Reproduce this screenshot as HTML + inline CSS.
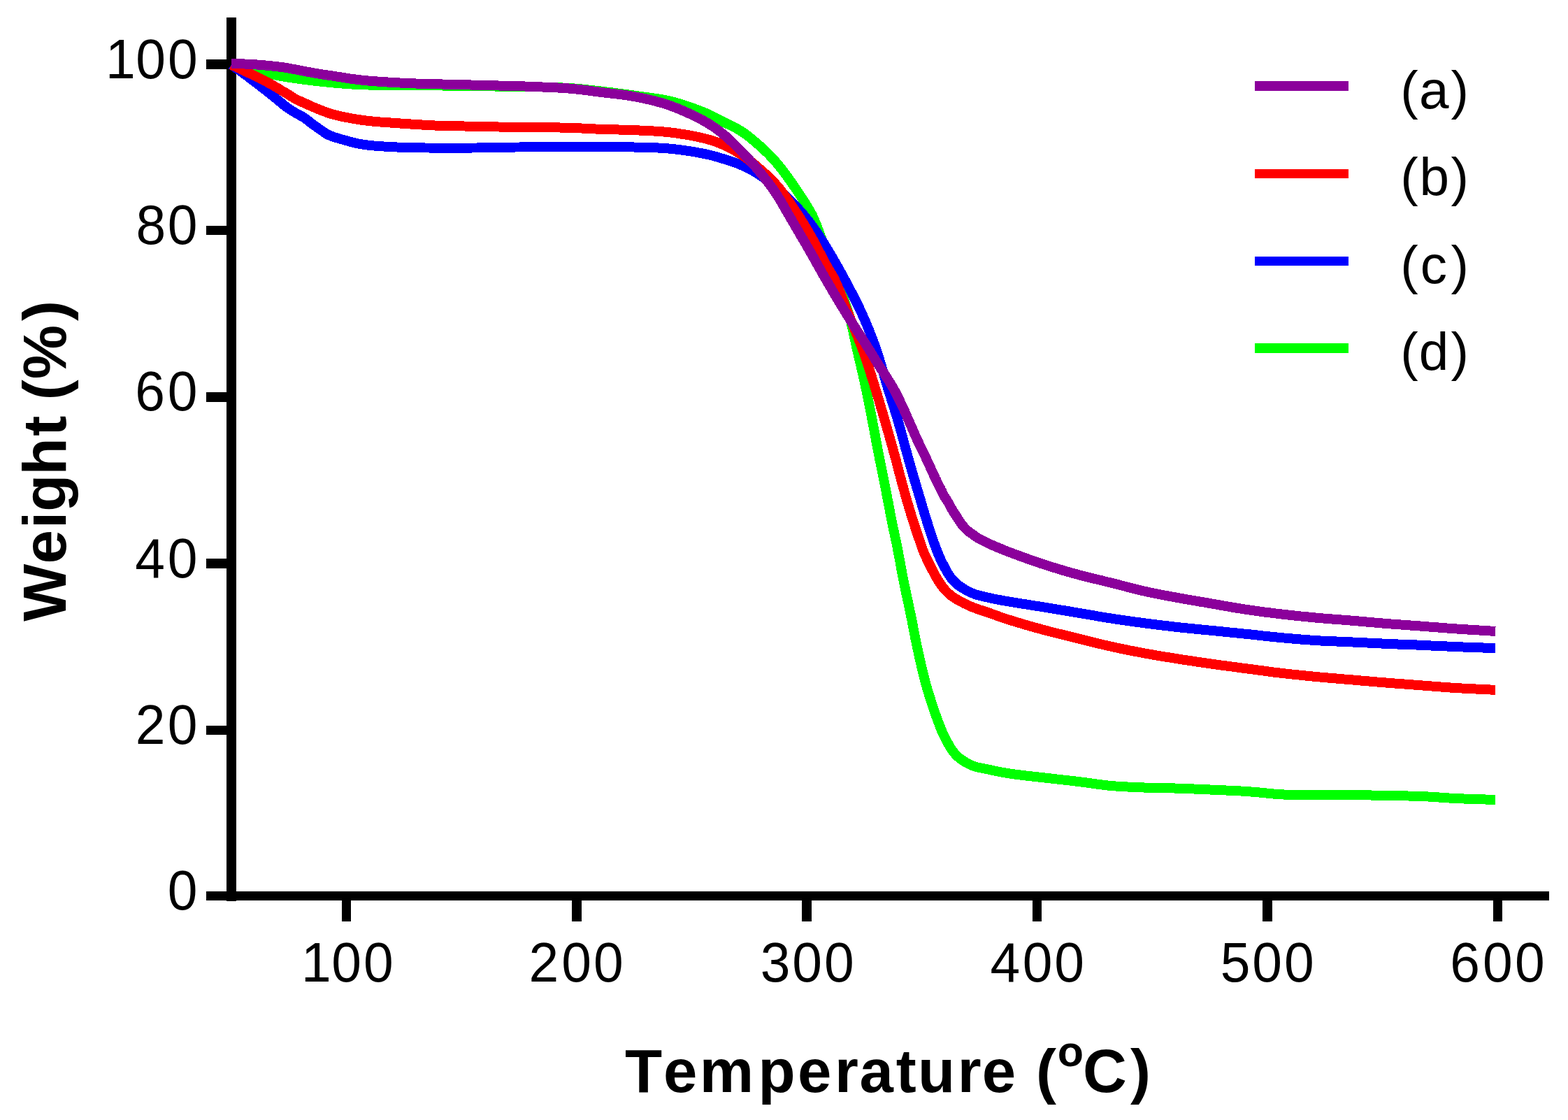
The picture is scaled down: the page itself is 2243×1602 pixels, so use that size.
<!DOCTYPE html>
<html lang="en">
<head>
<meta charset="utf-8">
<title>TGA curves</title>
<style>
html,body{margin:0;padding:0;background:#fff}
body{width:2243px;height:1602px;overflow:hidden}
svg{display:block}
text{fill:#000;font-family:"Liberation Sans",sans-serif;white-space:pre;font-kerning:none}
.tick{font-size:80px}
.leg{font-size:76.5px}
.ttl{font-size:87px;font-weight:bold}
</style>
</head>
<body>
<svg width="2243" height="1602" viewBox="0 0 2243 1602">
<rect x="0" y="0" width="2243" height="1602" fill="#fff"/>

<g fill="#000" shape-rendering="crispEdges">
<rect x="324" y="25" width="14" height="1264"/>
<rect x="295" y="1275" width="1921" height="13"/>
<rect x="295" y="85" width="30" height="14"/>
<rect x="295" y="323" width="30" height="13"/>
<rect x="295" y="561" width="30" height="14"/>
<rect x="295" y="799" width="30" height="14"/>
<rect x="295" y="1038" width="30" height="13"/>
<rect x="489" y="1287" width="13" height="31"/>
<rect x="818" y="1287" width="14" height="31"/>
<rect x="1147" y="1287" width="14" height="31"/>
<rect x="1477" y="1287" width="13" height="31"/>
<rect x="1806" y="1287" width="14" height="31"/>
<rect x="2136" y="1287" width="13" height="31"/>
</g>
<g fill="none" stroke-width="14.0" stroke-linejoin="round" stroke-linecap="butt" shape-rendering="crispEdges">
<path stroke="#00FF00" d="M331.0,92.0 L334.0,92.8 L337.0,93.6 L340.0,94.5 L343.0,95.3 L346.0,96.1 L349.0,96.9 L352.0,97.7 L355.0,98.5 L358.1,99.3 L361.2,100.1 L364.3,100.8 L367.5,101.6 L370.6,102.4 L373.7,103.1 L376.9,103.8 L380.0,104.5 L383.1,105.2 L386.2,105.8 L389.3,106.5 L392.4,107.1 L395.5,107.7 L398.6,108.3 L401.7,108.9 L404.8,109.4 L407.9,109.9 L411.0,110.4 L414.2,110.9 L417.3,111.4 L420.4,111.8 L423.5,112.2 L426.7,112.7 L429.8,113.1 L432.9,113.5 L436.0,113.9 L439.2,114.3 L442.3,114.7 L445.4,115.1 L448.5,115.5 L451.7,115.8 L454.8,116.2 L457.9,116.5 L461.0,116.9 L464.2,117.2 L467.3,117.5 L470.4,117.8 L473.6,118.1 L476.7,118.4 L479.8,118.7 L482.9,119.0 L486.0,119.2 L489.1,119.5 L492.2,119.7 L495.4,120.0 L498.5,120.2 L501.6,120.4 L504.7,120.6 L507.8,120.8 L510.8,120.9 L513.8,121.1 L516.8,121.2 L519.9,121.3 L523.0,121.4 L526.3,121.5 L529.7,121.6 L534.2,121.7 L539.0,121.8 L543.9,121.9 L549.0,122.0 L554.1,122.0 L559.4,122.1 L564.7,122.1 L570.0,122.2 L576.0,122.2 L582.1,122.3 L588.4,122.3 L594.7,122.3 L601.0,122.3 L607.4,122.3 L613.7,122.4 L620.0,122.4 L626.3,122.5 L632.5,122.5 L638.8,122.6 L645.0,122.7 L651.3,122.7 L657.5,122.8 L663.8,122.9 L670.0,123.0 L676.2,123.1 L682.4,123.2 L688.6,123.3 L694.8,123.3 L700.9,123.4 L707.1,123.5 L713.3,123.6 L719.5,123.7 L725.7,123.8 L731.9,123.8 L738.1,123.9 L744.2,123.9 L750.4,124.0 L756.6,124.1 L762.8,124.2 L769.0,124.3 L775.3,124.5 L781.6,124.6 L788.0,124.8 L794.3,125.0 L800.6,125.3 L806.9,125.6 L813.0,125.9 L819.0,126.3 L824.3,126.7 L829.4,127.2 L834.5,127.7 L839.5,128.2 L844.5,128.8 L849.6,129.4 L854.7,130.0 L860.0,130.6 L866.0,131.3 L872.2,132.0 L878.4,132.8 L884.7,133.6 L891.0,134.4 L897.4,135.2 L903.7,136.1 L910.0,137.0 L916.3,137.9 L922.5,138.7 L928.8,139.5 L935.1,140.4 L941.3,141.3 L947.6,142.4 L953.8,143.6 L960.0,145.0 L966.4,146.7 L973.0,148.6 L979.6,150.7 L986.2,152.9 L992.6,155.2 L998.8,157.5 L1004.6,159.8 L1010.0,162.0 L1013.6,163.6 L1016.9,165.1 L1020.1,166.7 L1023.1,168.2 L1026.1,169.8 L1029.0,171.3 L1031.9,172.9 L1035.0,174.5 L1038.1,176.1 L1041.3,177.6 L1044.5,179.1 L1047.6,180.6 L1050.7,182.2 L1053.9,183.9 L1056.9,185.6 L1060.0,187.5 L1063.2,189.6 L1066.3,191.8 L1069.4,194.1 L1072.5,196.5 L1075.6,199.0 L1078.6,201.6 L1081.7,204.2 L1084.7,206.8 L1087.9,209.6 L1091.1,212.5 L1094.2,215.5 L1097.4,218.5 L1100.5,221.6 L1103.6,224.8 L1106.7,228.1 L1109.7,231.5 L1112.9,235.3 L1116.1,239.3 L1119.3,243.3 L1122.4,247.5 L1125.5,251.7 L1128.6,256.0 L1131.7,260.3 L1134.7,264.7 L1138.0,269.5 L1141.4,274.5 L1144.8,279.6 L1148.2,284.8 L1151.5,289.9 L1154.5,294.8 L1157.2,299.4 L1159.6,303.5 L1160.9,305.8 L1162.0,308.0 L1162.9,310.0 L1163.8,312.0 L1164.7,313.9 L1165.5,315.9 L1166.3,317.9 L1167.2,320.0 L1168.1,322.3 L1169.0,324.6 L1169.9,326.9 L1170.7,329.2 L1171.6,331.7 L1172.5,334.3 L1173.5,337.0 L1174.6,340.0 L1176.7,345.6 L1179.0,351.8 L1181.5,358.6 L1184.2,365.8 L1187.0,373.2 L1189.7,380.6 L1192.4,387.9 L1195.0,395.0 L1197.5,401.9 L1200.1,408.8 L1202.7,415.7 L1205.2,422.6 L1207.7,429.5 L1210.1,436.4 L1212.3,443.2 L1214.4,450.0 L1216.2,456.3 L1217.8,462.6 L1219.2,468.9 L1220.6,475.1 L1221.9,481.3 L1223.3,487.5 L1224.6,493.8 L1226.0,500.0 L1227.5,506.2 L1228.9,512.5 L1230.4,518.7 L1231.8,525.0 L1233.3,531.2 L1234.7,537.5 L1236.1,543.7 L1237.5,550.0 L1238.8,556.2 L1240.1,562.5 L1241.4,568.7 L1242.6,575.0 L1243.9,581.2 L1245.1,587.5 L1246.3,593.7 L1247.5,600.0 L1248.7,606.2 L1249.9,612.5 L1251.1,618.7 L1252.2,625.0 L1253.4,631.3 L1254.6,637.5 L1255.8,643.8 L1257.0,650.0 L1258.2,656.3 L1259.5,662.5 L1260.7,668.8 L1262.0,675.0 L1263.3,681.3 L1264.5,687.5 L1265.8,693.8 L1267.0,700.0 L1268.2,706.3 L1269.4,712.7 L1270.7,719.1 L1271.9,725.6 L1273.1,731.9 L1274.2,738.1 L1275.4,744.0 L1276.5,749.6 L1277.3,753.7 L1278.2,757.5 L1279.0,761.2 L1279.8,764.8 L1280.5,768.4 L1281.3,772.0 L1282.2,775.9 L1283.0,780.0 L1284.1,785.7 L1285.2,791.6 L1286.4,797.8 L1287.6,804.2 L1288.7,810.7 L1289.9,817.2 L1291.2,823.7 L1292.4,830.0 L1293.7,836.3 L1295.0,842.5 L1296.3,848.8 L1297.6,855.0 L1299.0,861.3 L1300.3,867.5 L1301.6,873.7 L1302.9,880.0 L1304.2,886.2 L1305.4,892.5 L1306.6,898.8 L1307.8,905.0 L1309.0,911.3 L1310.3,917.5 L1311.6,923.8 L1312.9,930.0 L1314.3,936.3 L1315.7,942.5 L1317.1,948.8 L1318.5,955.1 L1320.0,961.3 L1321.6,967.6 L1323.2,973.8 L1324.9,980.0 L1326.7,986.4 L1328.7,992.9 L1330.8,999.5 L1332.9,1006.0 L1335.0,1012.4 L1337.1,1018.5 L1339.1,1024.3 L1341.1,1029.7 L1342.4,1033.3 L1343.7,1036.6 L1344.9,1039.8 L1346.1,1042.8 L1347.4,1045.8 L1348.7,1048.7 L1350.1,1051.7 L1351.6,1054.7 L1353.3,1057.9 L1355.0,1061.2 L1356.8,1064.5 L1358.7,1067.8 L1360.6,1071.0 L1362.7,1074.1 L1364.9,1076.9 L1367.3,1079.6 L1369.7,1082.0 L1372.3,1084.2 L1375.1,1086.2 L1377.9,1088.2 L1380.8,1090.0 L1383.8,1091.7 L1386.8,1093.2 L1389.8,1094.6 L1392.8,1095.8 L1395.8,1096.8 L1398.9,1097.6 L1402.1,1098.3 L1405.3,1098.9 L1408.5,1099.5 L1411.6,1100.1 L1414.8,1100.8 L1417.9,1101.5 L1420.8,1102.1 L1423.8,1102.8 L1426.7,1103.4 L1429.8,1104.0 L1432.9,1104.6 L1436.3,1105.2 L1439.8,1105.8 L1445.2,1106.6 L1451.1,1107.4 L1457.2,1108.2 L1463.7,1109.0 L1470.2,1109.8 L1476.8,1110.5 L1483.3,1111.3 L1489.7,1112.0 L1495.9,1112.7 L1502.2,1113.4 L1508.4,1114.1 L1514.6,1114.8 L1520.9,1115.5 L1527.1,1116.2 L1533.4,1116.9 L1539.6,1117.6 L1545.8,1118.4 L1552.1,1119.2 L1558.3,1120.1 L1564.6,1121.0 L1570.8,1121.8 L1577.1,1122.6 L1583.3,1123.4 L1589.6,1124.0 L1595.9,1124.5 L1602.1,1125.0 L1608.5,1125.3 L1614.8,1125.6 L1621.0,1125.9 L1627.3,1126.1 L1633.4,1126.4 L1639.5,1126.6 L1645.1,1126.8 L1650.5,1126.9 L1655.9,1127.0 L1661.2,1127.1 L1666.6,1127.2 L1672.0,1127.3 L1677.4,1127.4 L1683.0,1127.6 L1689.1,1127.8 L1695.3,1128.0 L1701.5,1128.3 L1707.8,1128.5 L1714.1,1128.8 L1720.4,1129.0 L1726.7,1129.3 L1733.0,1129.6 L1739.3,1129.9 L1745.5,1130.1 L1751.8,1130.4 L1758.0,1130.7 L1764.3,1130.9 L1770.5,1131.3 L1776.8,1131.6 L1783.0,1132.0 L1789.3,1132.5 L1795.9,1133.0 L1802.4,1133.6 L1809.0,1134.3 L1815.4,1134.9 L1821.5,1135.5 L1827.4,1135.9 L1832.8,1136.3 L1836.2,1136.5 L1839.3,1136.6 L1842.2,1136.7 L1845.0,1136.8 L1847.8,1136.9 L1850.8,1136.9 L1854.1,1137.0 L1857.8,1137.0 L1865.3,1137.1 L1874.1,1137.1 L1883.6,1137.1 L1893.7,1137.0 L1904.0,1137.0 L1914.1,1136.9 L1923.8,1136.9 L1932.7,1137.0 L1939.4,1137.1 L1945.9,1137.2 L1952.2,1137.3 L1958.3,1137.4 L1964.3,1137.6 L1970.4,1137.7 L1976.4,1137.9 L1982.6,1138.0 L1988.8,1138.1 L1995.1,1138.2 L2001.4,1138.3 L2007.6,1138.4 L2013.9,1138.5 L2020.1,1138.6 L2026.4,1138.8 L2032.6,1139.0 L2038.8,1139.3 L2045.0,1139.6 L2051.2,1140.0 L2057.4,1140.4 L2063.6,1140.9 L2069.8,1141.3 L2076.1,1141.7 L2082.5,1142.0 L2089.4,1142.3 L2096.4,1142.6 L2103.5,1142.8 L2110.6,1143.1 L2117.8,1143.3 L2124.9,1143.5 L2132.1,1143.8 L2139.2,1144.0"/>
<path stroke="#0000FF" d="M331.0,92.5 L332.0,93.2 L333.0,93.9 L334.0,94.6 L335.0,95.3 L336.0,96.1 L337.0,96.8 L338.0,97.5 L339.0,98.2 L340.0,98.9 L341.0,99.6 L342.0,100.3 L343.0,101.0 L344.0,101.7 L345.1,102.5 L346.2,103.3 L347.4,104.2 L349.4,105.7 L351.6,107.3 L353.9,109.0 L356.3,110.9 L358.7,112.7 L361.2,114.6 L363.6,116.5 L366.0,118.3 L368.3,120.1 L370.7,121.9 L373.1,123.8 L375.4,125.6 L377.8,127.4 L380.1,129.2 L382.3,130.9 L384.4,132.6 L386.1,133.9 L387.7,135.2 L389.3,136.5 L390.8,137.7 L392.3,138.9 L393.8,140.1 L395.4,141.4 L396.9,142.6 L398.5,143.9 L400.0,145.2 L401.6,146.5 L403.1,147.8 L404.7,149.1 L406.2,150.4 L407.8,151.6 L409.4,152.8 L410.9,153.9 L412.5,155.0 L414.0,156.0 L415.6,157.1 L417.2,158.1 L418.7,159.1 L420.3,160.0 L421.9,161.0 L423.5,161.9 L425.0,162.8 L426.6,163.6 L428.2,164.4 L429.7,165.3 L431.3,166.1 L432.9,167.0 L434.4,168.0 L436.0,169.1 L437.5,170.2 L439.1,171.3 L440.6,172.5 L442.1,173.7 L443.6,174.9 L445.2,176.1 L446.8,177.3 L448.5,178.6 L450.3,179.9 L452.2,181.2 L454.0,182.5 L455.8,183.8 L457.6,185.1 L459.4,186.3 L461.0,187.4 L462.2,188.2 L463.3,188.9 L464.3,189.7 L465.3,190.3 L466.3,191.0 L467.4,191.7 L468.6,192.3 L470.0,193.0 L472.5,194.1 L475.3,195.1 L478.4,196.2 L481.7,197.2 L485.0,198.2 L488.4,199.2 L491.8,200.1 L495.0,201.0 L498.1,201.8 L501.0,202.7 L504.0,203.4 L506.9,204.2 L510.0,204.9 L513.1,205.6 L516.4,206.2 L520.0,206.8 L525.4,207.5 L531.3,208.2 L537.5,208.7 L543.9,209.2 L550.5,209.6 L557.1,210.0 L563.6,210.3 L570.0,210.6 L576.2,210.9 L582.5,211.1 L588.7,211.2 L595.0,211.3 L601.2,211.4 L607.5,211.5 L613.7,211.5 L620.0,211.6 L626.3,211.7 L632.5,211.7 L638.8,211.7 L645.0,211.7 L651.3,211.7 L657.5,211.7 L663.8,211.6 L670.0,211.6 L676.2,211.5 L682.4,211.5 L688.6,211.3 L694.8,211.2 L700.9,211.1 L707.1,211.0 L713.3,210.9 L719.5,210.8 L725.6,210.7 L731.5,210.6 L737.4,210.5 L743.3,210.5 L749.3,210.4 L755.6,210.3 L762.1,210.3 L769.0,210.2 L779.2,210.1 L790.5,210.0 L802.3,209.9 L814.5,209.9 L826.6,209.8 L838.5,209.8 L849.7,209.8 L860.0,209.8 L867.0,209.8 L873.5,209.9 L879.8,210.0 L885.9,210.1 L891.9,210.2 L897.8,210.3 L903.9,210.4 L910.0,210.6 L916.3,210.8 L922.5,210.9 L928.8,211.1 L935.0,211.3 L941.3,211.5 L947.5,211.8 L953.8,212.3 L960.0,212.8 L966.4,213.5 L972.9,214.3 L979.5,215.2 L986.1,216.2 L992.5,217.2 L998.7,218.3 L1004.6,219.4 L1010.0,220.5 L1013.6,221.3 L1016.9,222.1 L1020.0,222.9 L1023.1,223.7 L1026.0,224.6 L1029.0,225.4 L1031.9,226.4 L1035.0,227.3 L1038.1,228.3 L1041.3,229.3 L1044.4,230.3 L1047.6,231.3 L1050.7,232.4 L1053.8,233.5 L1056.9,234.7 L1060.0,236.0 L1063.1,237.4 L1066.3,238.8 L1069.4,240.4 L1072.5,241.9 L1075.6,243.6 L1078.6,245.3 L1081.7,247.1 L1084.7,249.0 L1087.9,251.1 L1091.1,253.3 L1094.2,255.6 L1097.3,258.0 L1100.4,260.4 L1103.5,262.9 L1106.6,265.4 L1109.7,268.0 L1112.9,270.7 L1116.1,273.4 L1119.2,276.2 L1122.4,279.0 L1125.5,281.9 L1128.6,284.9 L1131.7,287.9 L1134.7,291.0 L1137.9,294.4 L1141.1,297.8 L1144.2,301.3 L1147.4,304.9 L1150.5,308.5 L1153.5,312.2 L1156.6,316.1 L1159.6,320.0 L1162.8,324.4 L1166.0,328.9 L1169.2,333.6 L1172.3,338.3 L1175.4,343.2 L1178.5,348.1 L1181.5,353.0 L1184.6,358.0 L1187.9,363.4 L1191.1,368.9 L1194.3,374.5 L1197.5,380.1 L1200.7,385.8 L1203.8,391.5 L1206.9,397.3 L1210.0,403.0 L1213.1,408.8 L1216.1,414.6 L1219.2,420.4 L1222.2,426.2 L1225.1,432.1 L1228.0,438.0 L1230.9,444.0 L1233.6,450.0 L1236.3,456.1 L1239.0,462.3 L1241.6,468.5 L1244.1,474.8 L1246.6,481.1 L1248.9,487.4 L1251.3,493.7 L1253.5,500.0 L1255.6,506.2 L1257.6,512.4 L1259.4,518.7 L1261.3,525.0 L1263.0,531.2 L1264.8,537.5 L1266.6,543.7 L1268.5,550.0 L1270.4,556.3 L1272.4,562.5 L1274.3,568.7 L1276.3,575.0 L1278.3,581.2 L1280.2,587.5 L1282.1,593.7 L1284.0,600.0 L1285.8,606.2 L1287.6,612.5 L1289.3,618.7 L1291.0,625.0 L1292.7,631.2 L1294.3,637.5 L1296.1,643.8 L1297.8,650.0 L1299.6,656.3 L1301.3,662.5 L1303.1,668.8 L1304.9,675.0 L1306.7,681.3 L1308.5,687.5 L1310.4,693.8 L1312.2,700.0 L1314.1,706.3 L1316.0,712.7 L1317.9,719.2 L1319.8,725.6 L1321.7,731.9 L1323.6,738.1 L1325.4,744.0 L1327.2,749.6 L1328.5,753.8 L1329.8,757.8 L1331.1,761.7 L1332.3,765.5 L1333.5,769.2 L1334.8,772.8 L1336.1,776.4 L1337.4,780.0 L1338.6,783.3 L1339.8,786.5 L1341.0,789.6 L1342.3,792.7 L1343.6,795.8 L1344.9,798.8 L1346.3,801.9 L1347.9,805.0 L1349.7,808.4 L1351.5,811.9 L1353.4,815.5 L1355.4,819.0 L1357.6,822.4 L1359.8,825.7 L1362.2,828.8 L1364.8,831.7 L1367.5,834.3 L1370.4,836.7 L1373.5,838.9 L1376.7,841.0 L1379.9,843.0 L1383.2,844.8 L1386.5,846.5 L1389.8,848.0 L1392.8,849.3 L1395.9,850.4 L1399.0,851.3 L1402.2,852.1 L1405.3,852.9 L1408.5,853.6 L1411.7,854.3 L1414.8,855.0 L1417.9,855.7 L1420.8,856.4 L1423.8,857.0 L1426.7,857.5 L1429.8,858.1 L1432.9,858.7 L1436.3,859.3 L1439.8,859.9 L1445.2,860.8 L1451.1,861.8 L1457.3,862.8 L1463.7,863.8 L1470.2,864.8 L1476.8,865.9 L1483.3,866.9 L1489.7,867.9 L1495.9,868.9 L1502.2,869.9 L1508.4,870.9 L1514.6,872.0 L1520.9,873.0 L1527.1,874.0 L1533.4,875.1 L1539.6,876.1 L1545.8,877.2 L1552.1,878.2 L1558.3,879.3 L1564.6,880.4 L1570.8,881.5 L1577.1,882.6 L1583.3,883.6 L1589.6,884.6 L1595.9,885.6 L1602.1,886.5 L1608.5,887.4 L1614.8,888.3 L1621.0,889.1 L1627.3,890.0 L1633.4,890.8 L1639.5,891.6 L1645.1,892.3 L1650.5,893.0 L1655.9,893.7 L1661.2,894.4 L1666.6,895.0 L1672.0,895.6 L1677.4,896.3 L1683.0,896.9 L1689.1,897.6 L1695.3,898.2 L1701.5,898.8 L1707.8,899.4 L1714.1,900.1 L1720.4,900.7 L1726.7,901.3 L1733.0,901.9 L1739.3,902.5 L1745.5,903.1 L1751.8,903.8 L1758.0,904.4 L1764.3,905.0 L1770.5,905.6 L1776.8,906.3 L1783.0,906.9 L1789.2,907.5 L1795.5,908.2 L1801.7,908.9 L1807.9,909.6 L1814.1,910.2 L1820.3,910.9 L1826.6,911.5 L1832.8,912.1 L1839.0,912.7 L1845.3,913.2 L1851.5,913.8 L1857.8,914.3 L1864.0,914.8 L1870.3,915.2 L1876.5,915.7 L1882.8,916.1 L1889.0,916.5 L1895.3,916.8 L1901.5,917.1 L1907.7,917.3 L1914.0,917.6 L1920.2,917.9 L1926.5,918.1 L1932.7,918.4 L1938.9,918.7 L1945.2,919.0 L1951.4,919.3 L1957.6,919.6 L1963.9,919.9 L1970.1,920.2 L1976.4,920.5 L1982.6,920.8 L1988.8,921.1 L1995.1,921.3 L2001.3,921.6 L2007.6,921.8 L2013.9,922.0 L2020.1,922.3 L2026.4,922.5 L2032.6,922.8 L2038.8,923.1 L2045.0,923.4 L2051.2,923.7 L2057.4,924.0 L2063.6,924.3 L2069.8,924.5 L2076.1,924.8 L2082.5,925.1 L2089.4,925.4 L2096.4,925.6 L2103.5,925.9 L2110.6,926.1 L2117.8,926.4 L2124.9,926.6 L2132.1,926.9 L2139.2,927.1"/>
<path stroke="#FF0000" d="M331.0,92.5 L332.5,93.2 L334.0,94.0 L335.5,94.7 L337.0,95.4 L338.5,96.1 L340.0,96.9 L341.5,97.6 L343.0,98.3 L344.5,99.0 L345.9,99.7 L347.3,100.4 L348.7,101.0 L350.2,101.7 L351.7,102.4 L353.3,103.2 L355.0,104.0 L357.6,105.2 L360.3,106.5 L363.2,107.9 L366.1,109.3 L369.2,110.7 L372.3,112.3 L375.5,113.9 L378.6,115.5 L382.4,117.6 L386.5,119.8 L390.6,122.2 L394.8,124.7 L399.0,127.1 L402.9,129.5 L406.6,131.7 L409.8,133.6 L411.6,134.7 L413.3,135.7 L414.8,136.7 L416.2,137.7 L417.7,138.6 L419.1,139.5 L420.7,140.4 L422.3,141.3 L424.3,142.4 L426.5,143.4 L428.7,144.4 L430.9,145.5 L433.2,146.5 L435.4,147.5 L437.6,148.4 L439.8,149.4 L441.7,150.3 L443.6,151.1 L445.4,151.9 L447.2,152.7 L449.0,153.5 L450.9,154.3 L452.8,155.1 L454.8,155.9 L457.1,156.8 L459.5,157.8 L461.9,158.7 L464.3,159.7 L466.8,160.6 L469.4,161.5 L472.1,162.4 L474.8,163.2 L478.2,164.1 L481.9,165.1 L485.6,165.9 L489.5,166.8 L493.4,167.6 L497.2,168.3 L501.0,169.0 L504.7,169.7 L507.9,170.3 L511.0,170.8 L514.1,171.2 L517.2,171.7 L520.2,172.1 L523.3,172.5 L526.5,172.8 L529.7,173.2 L533.3,173.6 L536.8,173.9 L540.4,174.2 L544.0,174.5 L547.8,174.7 L551.6,175.0 L555.7,175.3 L560.0,175.6 L566.6,176.1 L573.7,176.6 L581.2,177.1 L589.1,177.6 L597.0,178.1 L604.9,178.6 L612.6,179.0 L620.0,179.4 L626.5,179.7 L632.8,179.9 L639.1,180.0 L645.3,180.1 L651.5,180.3 L657.6,180.4 L663.8,180.5 L670.0,180.6 L676.2,180.7 L682.4,180.9 L688.6,181.0 L694.8,181.1 L700.9,181.3 L707.1,181.4 L713.3,181.5 L719.5,181.6 L725.7,181.7 L731.9,181.7 L738.1,181.8 L744.2,181.8 L750.4,181.8 L756.6,181.9 L762.8,181.9 L769.0,182.0 L775.3,182.1 L781.6,182.2 L788.0,182.3 L794.3,182.4 L800.6,182.5 L806.8,182.7 L813.0,182.8 L819.0,183.0 L824.3,183.2 L829.4,183.4 L834.5,183.6 L839.5,183.9 L844.5,184.1 L849.6,184.4 L854.7,184.6 L860.0,184.8 L866.0,185.0 L872.2,185.2 L878.4,185.3 L884.7,185.5 L891.0,185.6 L897.4,185.8 L903.7,186.0 L910.0,186.3 L916.3,186.6 L922.5,186.9 L928.8,187.2 L935.0,187.5 L941.3,187.9 L947.5,188.3 L953.8,188.9 L960.0,189.6 L966.4,190.4 L972.9,191.4 L979.6,192.4 L986.1,193.5 L992.6,194.7 L998.8,196.0 L1004.6,197.3 L1010.0,198.6 L1013.6,199.6 L1016.9,200.5 L1020.1,201.5 L1023.1,202.6 L1026.1,203.6 L1029.0,204.8 L1032.0,206.0 L1035.0,207.3 L1038.2,208.8 L1041.3,210.3 L1044.5,211.9 L1047.6,213.6 L1050.8,215.3 L1053.9,217.2 L1056.9,219.1 L1060.0,221.0 L1063.2,223.1 L1066.3,225.3 L1069.4,227.6 L1072.5,229.9 L1075.6,232.3 L1078.6,234.7 L1081.7,237.2 L1084.7,239.8 L1087.9,242.5 L1091.1,245.3 L1094.2,248.1 L1097.4,251.0 L1100.5,254.0 L1103.6,257.0 L1106.7,260.2 L1109.7,263.5 L1113.0,267.3 L1116.2,271.2 L1119.3,275.3 L1122.5,279.5 L1125.6,283.8 L1128.6,288.2 L1131.7,292.6 L1134.7,297.0 L1137.9,301.8 L1141.1,306.6 L1144.2,311.5 L1147.4,316.5 L1150.5,321.6 L1153.5,326.7 L1156.6,331.8 L1159.6,337.0 L1162.7,342.6 L1165.9,348.5 L1169.1,354.5 L1172.2,360.6 L1175.3,366.5 L1178.2,372.1 L1181.0,377.3 L1183.5,382.0 L1185.0,384.6 L1186.4,386.9 L1187.6,388.9 L1188.9,390.9 L1190.1,392.9 L1191.4,395.0 L1192.6,397.3 L1194.0,400.0 L1196.3,405.0 L1198.7,410.7 L1201.2,416.8 L1203.8,423.4 L1206.3,430.1 L1208.9,436.9 L1211.5,443.6 L1214.0,450.0 L1216.5,456.2 L1219.1,462.5 L1221.7,468.7 L1224.2,475.0 L1226.8,481.2 L1229.2,487.5 L1231.7,493.7 L1234.0,500.0 L1236.2,506.2 L1238.4,512.5 L1240.5,518.7 L1242.5,525.0 L1244.5,531.2 L1246.5,537.5 L1248.4,543.7 L1250.4,550.0 L1252.3,556.2 L1254.2,562.5 L1256.1,568.7 L1258.0,575.0 L1259.8,581.2 L1261.7,587.5 L1263.5,593.7 L1265.3,600.0 L1267.1,606.3 L1269.0,612.8 L1270.9,619.3 L1272.7,625.8 L1274.5,632.2 L1276.3,638.4 L1277.9,644.4 L1279.5,650.0 L1280.6,654.1 L1281.7,658.0 L1282.6,661.8 L1283.6,665.5 L1284.5,669.1 L1285.5,672.7 L1286.4,676.3 L1287.4,680.0 L1288.4,683.8 L1289.4,687.5 L1290.4,691.3 L1291.4,695.0 L1292.5,698.8 L1293.5,702.5 L1294.5,706.3 L1295.6,710.0 L1296.7,713.8 L1297.8,717.5 L1298.9,721.3 L1300.0,725.0 L1301.1,728.8 L1302.3,732.5 L1303.4,736.3 L1304.6,740.0 L1305.8,743.8 L1307.0,747.7 L1308.3,751.5 L1309.5,755.4 L1310.8,759.2 L1312.0,762.9 L1313.2,766.5 L1314.4,770.0 L1315.3,772.7 L1316.2,775.4 L1317.1,777.9 L1317.9,780.5 L1318.8,782.9 L1319.7,785.3 L1320.6,787.7 L1321.5,790.0 L1322.3,792.0 L1323.1,793.8 L1324.0,795.7 L1324.8,797.4 L1325.6,799.2 L1326.5,801.1 L1327.5,803.0 L1328.5,805.0 L1329.9,807.9 L1331.5,811.0 L1333.2,814.3 L1334.9,817.6 L1336.7,820.9 L1338.4,824.1 L1340.2,827.2 L1341.9,830.0 L1343.2,832.1 L1344.5,834.0 L1345.7,835.9 L1347.0,837.7 L1348.3,839.5 L1349.6,841.2 L1351.0,842.8 L1352.4,844.4 L1353.8,845.9 L1355.2,847.3 L1356.6,848.6 L1358.1,849.9 L1359.6,851.1 L1361.2,852.4 L1363.0,853.6 L1364.8,854.9 L1367.4,856.6 L1370.3,858.3 L1373.4,860.0 L1376.6,861.7 L1379.9,863.4 L1383.3,865.0 L1386.6,866.5 L1389.8,867.9 L1392.9,869.2 L1396.0,870.3 L1399.1,871.4 L1402.3,872.5 L1405.4,873.5 L1408.5,874.5 L1411.7,875.5 L1414.8,876.6 L1417.9,877.7 L1420.8,878.8 L1423.8,879.8 L1426.7,880.9 L1429.8,882.0 L1432.9,883.1 L1436.3,884.2 L1439.8,885.4 L1445.2,887.1 L1451.0,888.9 L1457.2,890.8 L1463.6,892.7 L1470.2,894.6 L1476.8,896.5 L1483.3,898.3 L1489.7,900.1 L1495.9,901.8 L1502.2,903.4 L1508.4,905.0 L1514.6,906.5 L1520.9,908.0 L1527.1,909.5 L1533.4,911.1 L1539.6,912.6 L1545.8,914.2 L1552.1,915.7 L1558.3,917.3 L1564.6,918.9 L1570.8,920.4 L1577.1,921.9 L1583.3,923.4 L1589.6,924.8 L1595.9,926.2 L1602.1,927.5 L1608.4,928.8 L1614.7,930.1 L1621.0,931.3 L1627.3,932.5 L1633.4,933.7 L1639.5,934.8 L1645.1,935.8 L1650.5,936.8 L1655.9,937.7 L1661.2,938.6 L1666.6,939.5 L1672.0,940.3 L1677.4,941.2 L1683.0,942.1 L1689.1,943.1 L1695.2,944.0 L1701.5,945.0 L1707.8,945.9 L1714.1,946.9 L1720.4,947.8 L1726.7,948.7 L1733.0,949.6 L1739.2,950.5 L1745.5,951.3 L1751.7,952.2 L1758.0,953.0 L1764.3,953.8 L1770.5,954.7 L1776.8,955.5 L1783.0,956.3 L1789.2,957.1 L1795.5,958.0 L1801.7,958.8 L1807.9,959.6 L1814.1,960.5 L1820.3,961.3 L1826.6,962.1 L1832.8,962.8 L1839.0,963.5 L1845.3,964.2 L1851.5,964.9 L1857.8,965.5 L1864.0,966.2 L1870.3,966.8 L1876.5,967.4 L1882.8,968.0 L1889.0,968.6 L1895.3,969.1 L1901.5,969.7 L1907.8,970.2 L1914.0,970.7 L1920.2,971.3 L1926.5,971.8 L1932.7,972.3 L1938.9,972.8 L1945.2,973.4 L1951.4,973.9 L1957.6,974.4 L1963.9,975.0 L1970.1,975.5 L1976.4,976.0 L1982.6,976.5 L1988.8,977.0 L1995.1,977.5 L2001.3,978.0 L2007.6,978.4 L2013.9,978.9 L2020.1,979.4 L2026.4,979.8 L2032.6,980.3 L2038.8,980.8 L2045.0,981.3 L2051.2,981.7 L2057.4,982.2 L2063.6,982.7 L2069.8,983.2 L2076.1,983.6 L2082.5,984.0 L2089.4,984.4 L2096.4,984.8 L2103.5,985.1 L2110.6,985.5 L2117.8,985.8 L2124.9,986.1 L2132.1,986.5 L2139.2,986.8"/>
<path stroke="#8B009B" d="M331.0,91.0 L333.4,91.1 L335.8,91.1 L338.2,91.2 L340.6,91.2 L342.9,91.3 L345.3,91.3 L347.7,91.4 L350.0,91.5 L352.2,91.6 L354.3,91.7 L356.3,91.8 L358.3,91.9 L360.4,92.0 L362.6,92.1 L364.9,92.3 L367.4,92.5 L371.5,92.8 L375.9,93.2 L380.7,93.6 L385.7,94.1 L390.7,94.6 L395.7,95.2 L400.4,95.7 L404.8,96.3 L408.2,96.8 L411.4,97.3 L414.6,97.9 L417.6,98.5 L420.7,99.1 L423.7,99.6 L426.7,100.2 L429.8,100.8 L432.9,101.4 L436.0,102.0 L439.2,102.6 L442.3,103.1 L445.4,103.7 L448.5,104.3 L451.7,104.9 L454.8,105.4 L457.9,105.9 L461.0,106.4 L464.0,106.9 L467.1,107.3 L470.1,107.8 L473.3,108.2 L476.5,108.7 L479.8,109.2 L483.7,109.8 L487.7,110.4 L491.7,111.1 L495.8,111.8 L500.0,112.4 L504.3,113.0 L508.8,113.6 L513.5,114.2 L519.9,114.9 L526.7,115.5 L533.8,116.1 L541.0,116.6 L548.4,117.1 L555.8,117.6 L563.0,118.0 L570.0,118.4 L576.4,118.7 L582.7,119.0 L589.0,119.3 L595.2,119.5 L601.4,119.7 L607.6,119.8 L613.8,120.0 L620.0,120.2 L626.3,120.4 L632.5,120.5 L638.8,120.7 L645.0,120.8 L651.3,121.0 L657.5,121.1 L663.8,121.2 L670.0,121.4 L676.2,121.6 L682.4,121.7 L688.6,121.9 L694.8,122.0 L700.9,122.2 L707.1,122.4 L713.3,122.5 L719.5,122.7 L725.7,122.9 L732.0,123.0 L738.2,123.2 L744.4,123.4 L750.7,123.5 L756.9,123.7 L763.2,123.9 L769.4,124.2 L775.7,124.5 L782.0,124.7 L788.4,125.0 L794.7,125.3 L801.0,125.7 L807.3,126.1 L813.4,126.5 L819.4,127.0 L824.7,127.5 L829.8,128.1 L834.8,128.7 L839.7,129.3 L844.7,130.0 L849.7,130.6 L854.8,131.3 L860.0,132.0 L866.0,132.7 L872.1,133.4 L878.4,134.1 L884.7,134.8 L891.1,135.6 L897.4,136.5 L903.7,137.5 L910.0,138.6 L916.3,139.9 L922.6,141.2 L928.9,142.6 L935.1,144.1 L941.4,145.8 L947.6,147.5 L953.8,149.5 L960.0,151.6 L966.5,154.0 L973.1,156.7 L979.7,159.6 L986.3,162.6 L992.7,165.6 L998.9,168.7 L1004.7,171.8 L1010.0,174.8 L1013.6,176.9 L1017.0,179.1 L1020.2,181.1 L1023.2,183.2 L1026.2,185.4 L1029.1,187.6 L1032.0,189.9 L1035.0,192.3 L1038.2,195.0 L1041.4,197.8 L1044.5,200.7 L1047.7,203.6 L1050.8,206.7 L1053.9,209.8 L1056.9,212.9 L1060.0,216.0 L1063.2,219.3 L1066.3,222.6 L1069.4,226.0 L1072.5,229.4 L1075.6,232.9 L1078.7,236.4 L1081.7,239.9 L1084.7,243.5 L1087.8,247.2 L1090.9,251.0 L1093.9,254.8 L1096.9,258.6 L1099.9,262.5 L1102.9,266.5 L1105.8,270.5 L1108.7,274.7 L1111.7,279.3 L1114.6,283.9 L1117.5,288.7 L1120.3,293.6 L1123.1,298.5 L1126.0,303.5 L1128.8,308.4 L1131.7,313.4 L1134.8,318.6 L1137.9,323.9 L1141.0,329.1 L1144.1,334.5 L1147.2,339.8 L1150.4,345.2 L1153.5,350.5 L1156.6,355.9 L1159.7,361.3 L1162.8,366.8 L1165.9,372.3 L1168.9,377.7 L1172.0,383.2 L1175.2,388.8 L1178.3,394.4 L1181.6,400.0 L1185.2,406.1 L1188.8,412.3 L1192.5,418.6 L1196.2,424.9 L1200.0,431.2 L1203.8,437.5 L1207.7,443.8 L1211.5,450.0 L1215.5,456.4 L1219.7,463.1 L1224.0,469.8 L1228.2,476.4 L1232.4,482.9 L1236.4,489.1 L1240.0,494.8 L1243.3,500.0 L1245.1,502.9 L1246.7,505.5 L1248.1,507.9 L1249.5,510.2 L1250.9,512.5 L1252.3,514.8 L1253.8,517.3 L1255.5,520.0 L1258.0,523.9 L1260.7,528.2 L1263.7,532.6 L1266.7,537.2 L1269.6,541.8 L1272.5,546.3 L1275.2,550.7 L1277.7,554.9 L1279.5,558.2 L1281.2,561.4 L1282.8,564.5 L1284.3,567.6 L1285.8,570.7 L1287.3,573.7 L1288.7,576.8 L1290.2,579.9 L1291.7,583.0 L1293.1,586.1 L1294.5,589.2 L1295.9,592.3 L1297.3,595.4 L1298.6,598.6 L1300.0,601.7 L1301.4,604.8 L1302.8,607.9 L1304.1,611.0 L1305.5,614.2 L1306.9,617.3 L1308.2,620.4 L1309.6,623.6 L1311.0,626.7 L1312.4,629.8 L1313.9,632.9 L1315.4,636.0 L1316.9,639.2 L1318.4,642.3 L1319.9,645.4 L1321.5,648.5 L1323.0,651.6 L1324.5,654.8 L1326.0,658.1 L1327.5,661.4 L1329.1,664.8 L1330.6,668.1 L1332.1,671.5 L1333.6,674.7 L1335.1,677.9 L1336.5,681.0 L1337.7,683.6 L1339.0,686.1 L1340.2,688.6 L1341.4,691.1 L1342.6,693.5 L1343.8,695.8 L1344.9,697.9 L1345.9,700.0 L1346.6,701.4 L1347.3,702.7 L1347.9,704.0 L1348.5,705.2 L1349.1,706.4 L1349.7,707.6 L1350.3,708.8 L1351.0,710.0 L1351.7,711.3 L1352.5,712.5 L1353.3,713.8 L1354.1,715.0 L1354.9,716.2 L1355.7,717.5 L1356.5,718.7 L1357.2,720.0 L1357.9,721.2 L1358.6,722.5 L1359.2,723.7 L1359.9,725.0 L1360.5,726.3 L1361.2,727.5 L1361.9,728.8 L1362.6,730.0 L1363.4,731.3 L1364.2,732.5 L1365.0,733.8 L1365.8,735.0 L1366.7,736.3 L1367.5,737.5 L1368.4,738.8 L1369.2,740.0 L1370.0,741.3 L1370.8,742.6 L1371.7,743.9 L1372.5,745.2 L1373.3,746.5 L1374.1,747.7 L1374.9,748.9 L1375.7,750.0 L1376.3,750.8 L1376.9,751.5 L1377.4,752.2 L1378.0,752.9 L1378.6,753.5 L1379.1,754.1 L1379.7,754.8 L1380.3,755.4 L1380.9,756.0 L1381.5,756.6 L1382.1,757.2 L1382.7,757.8 L1383.3,758.4 L1383.9,758.9 L1384.6,759.5 L1385.2,760.0 L1385.8,760.5 L1386.4,760.9 L1387.0,761.4 L1387.6,761.8 L1388.2,762.2 L1388.9,762.6 L1389.6,763.1 L1390.3,763.6 L1391.4,764.3 L1392.5,765.1 L1393.7,766.0 L1394.9,766.9 L1396.2,767.7 L1397.5,768.6 L1398.7,769.4 L1400.0,770.2 L1401.2,770.9 L1402.5,771.6 L1403.7,772.2 L1405.0,772.9 L1406.2,773.5 L1407.5,774.1 L1408.7,774.7 L1410.0,775.3 L1411.2,775.9 L1412.5,776.5 L1413.7,777.1 L1415.0,777.7 L1416.2,778.3 L1417.5,778.9 L1418.7,779.4 L1420.0,780.0 L1421.2,780.5 L1422.5,781.1 L1423.7,781.6 L1425.0,782.1 L1426.3,782.7 L1427.5,783.2 L1428.8,783.7 L1430.0,784.2 L1431.2,784.7 L1432.3,785.2 L1433.3,785.6 L1434.4,786.1 L1435.6,786.5 L1436.8,787.0 L1438.2,787.6 L1439.8,788.2 L1444.2,789.9 L1449.5,791.9 L1455.7,794.2 L1462.3,796.6 L1469.3,799.1 L1476.3,801.6 L1483.2,804.0 L1489.7,806.2 L1495.9,808.2 L1502.1,810.2 L1508.4,812.1 L1514.6,814.0 L1520.8,815.9 L1527.1,817.7 L1533.3,819.5 L1539.6,821.2 L1545.8,822.9 L1552.1,824.5 L1558.3,826.1 L1564.6,827.6 L1570.8,829.1 L1577.1,830.6 L1583.3,832.2 L1589.6,833.7 L1595.9,835.3 L1602.2,836.9 L1608.5,838.5 L1614.8,840.2 L1621.0,841.8 L1627.2,843.3 L1633.4,844.8 L1639.5,846.2 L1645.0,847.4 L1650.5,848.5 L1655.9,849.6 L1661.2,850.7 L1666.6,851.7 L1672.0,852.7 L1677.4,853.7 L1683.0,854.7 L1689.1,855.8 L1695.2,856.9 L1701.5,858.0 L1707.8,859.1 L1714.1,860.2 L1720.4,861.2 L1726.7,862.3 L1733.0,863.4 L1739.2,864.5 L1745.5,865.6 L1751.7,866.7 L1758.0,867.8 L1764.2,868.9 L1770.5,869.9 L1776.7,870.9 L1783.0,871.9 L1789.2,872.8 L1795.4,873.7 L1801.7,874.5 L1807.9,875.4 L1814.1,876.1 L1820.3,876.9 L1826.6,877.7 L1832.8,878.4 L1839.0,879.1 L1845.3,879.8 L1851.5,880.5 L1857.8,881.2 L1864.0,881.8 L1870.3,882.4 L1876.5,883.0 L1882.8,883.6 L1889.0,884.2 L1895.3,884.7 L1901.5,885.2 L1907.8,885.7 L1914.0,886.1 L1920.2,886.6 L1926.5,887.1 L1932.7,887.6 L1938.9,888.1 L1945.2,888.7 L1951.4,889.2 L1957.6,889.8 L1963.9,890.3 L1970.1,890.9 L1976.4,891.4 L1982.6,891.9 L1988.8,892.4 L1995.1,892.9 L2001.3,893.3 L2007.6,893.8 L2013.9,894.2 L2020.1,894.7 L2026.4,895.1 L2032.6,895.6 L2038.8,896.1 L2045.0,896.6 L2051.2,897.0 L2057.4,897.5 L2063.6,898.0 L2069.8,898.5 L2076.1,898.9 L2082.5,899.4 L2089.4,899.9 L2096.4,900.3 L2103.5,900.8 L2110.6,901.2 L2117.8,901.6 L2124.9,902.0 L2132.1,902.5 L2139.2,902.9"/>
</g>
<g shape-rendering="crispEdges">
<rect x="1795" y="116" width="134" height="14" fill="#8B009B"/>
<rect x="1795" y="242" width="134" height="13" fill="#FF0000"/>
<rect x="1795" y="367" width="134" height="13" fill="#0000FF"/>
<rect x="1795" y="491" width="134" height="14" fill="#00FF00"/>
</g>
<g class="leg">
<text x="2003.2 2029.9 2075.6" y="154.7">(a)</text>
<text x="2003.2 2030.5 2075.6" y="279.4">(b)</text>
<text x="2003.2 2031.8 2075.6" y="404.7">(c)</text>
<text x="2003.2 2029.8 2075.6" y="529.0">(d)</text>
</g>
<g class="tick" transform="scale(0.96,1)">
<text x="157.4 202.3 250.1" y="111.9">100</text>
<text x="202.5 249.8" y="349.0">80</text>
<text x="201.4 249.8" y="587.0">60</text>
<text x="201.3 249.8" y="826.1">40</text>
<text x="201.7 249.8" y="1064.0">20</text>
<text x="249.8" y="1300.9">0</text>
<text x="449.0 494.0 541.7" y="1403.9">100</text>
<text x="788.1 836.7 884.5" y="1403.9">200</text>
<text x="1133.1 1180.4 1228.2" y="1403.9">300</text>
<text x="1475.4 1523.7 1571.0" y="1403.9">400</text>
<text x="1818.5 1865.8 1913.6" y="1403.9">500</text>
<text x="2160.8 2209.5 2257.3" y="1403.9">600</text>
</g>
<g class="ttl">
<text y="1562.4"><tspan x="893.9 948.9 1000.8 1084.5 1140.9 1194.0 1229.5 1281.7 1312.9 1369.8 1404.7 1434.7 1482.0">Temperature (</tspan><tspan x="1512.7" dy="-37.5" font-size="61">o</tspan><tspan x="1548.9 1616.9" dy="37.5">C)</tspan></text>
<text transform="translate(94,0) rotate(-90)" x="-888.8 -806.5 -756.0 -731.7 -679.5 -623.8 -593.8 -572.2 -542.2 -459.1" y="0">Weight (%)</text>
</g>
</svg>
</body>
</html>
